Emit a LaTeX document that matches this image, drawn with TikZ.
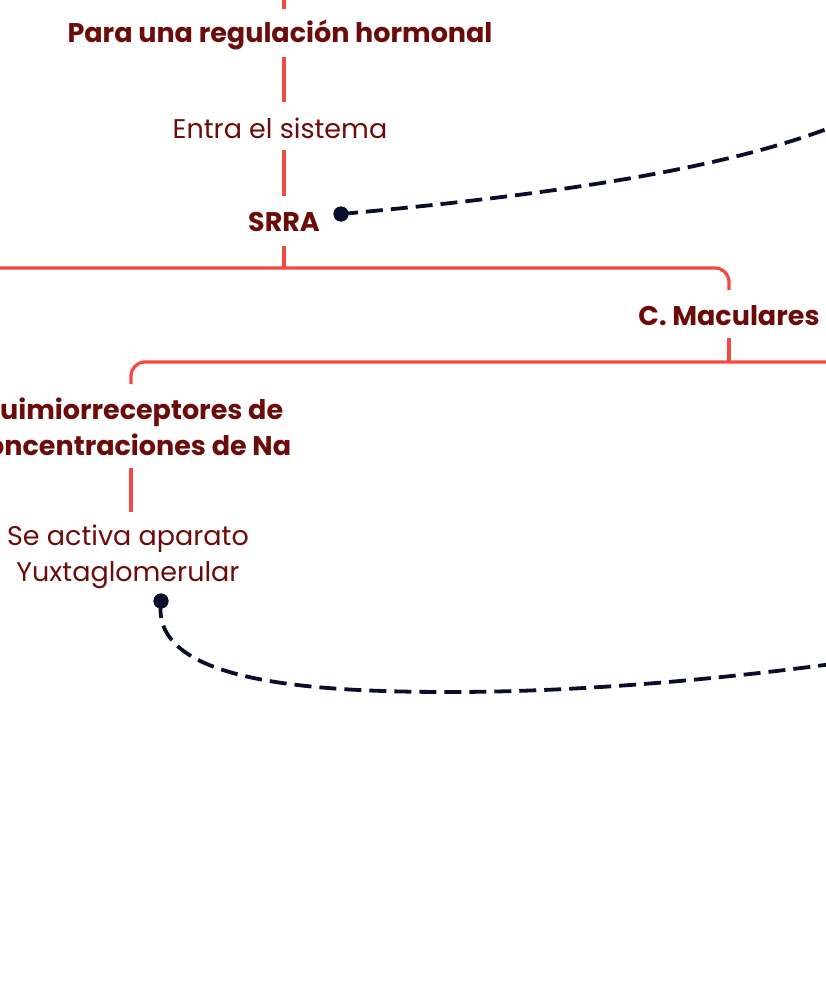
\documentclass[tikz,border=0pt]{standalone}
\usepackage{fontspec}
\setmainfont{Poppins}
\definecolor{linered}{RGB}{245,72,64}
\definecolor{txtred}{RGB}{108,12,10}
\definecolor{navy}{RGB}{10,14,42}
\begin{document}
\begin{tikzpicture}[x=1pt,y=-1pt,
  lbl/.style={text=txtred, font=\fontsize{27}{36}\selectfont, align=center, inner sep=0pt},
  blbl/.style={lbl, font=\fontsize{27}{36}\selectfont\bfseries},
  tree/.style={draw=linered, line width=3.2pt},
  link/.style={draw=navy, line width=3.8pt, dash pattern=on 17pt off 8pt},
  dotc/.style={circle, fill=navy, inner sep=0pt, minimum size=15pt}]
\useasboundingbox (0,0) rectangle (826,1001);
% text nodes
\node[blbl] (para) at (280,35) {Para una regulación hormonal};
\node[lbl] (entra) at (280,128) {Entra el sistema};
\node[blbl] (srra) at (284,222) {SRRA};
\node[blbl] (cmac) at (729,316) {C. Maculares};
\node[blbl] (quim) at (131,427) {Quimiorreceptores de\\concentraciones de Na};
\node[lbl] (seact) at (128,557) {Se activa aparato\\Yuxtaglomerular};
% helper coordinates
\coordinate (tx) at (284,0);
\coordinate (topin) at (284,-6);
\coordinate (topend) at (284,9);
\coordinate (barL) at (-6,268);
\coordinate (b2R) at (832,362);
% tree lines
\draw[tree] (topin) -- (topend);
\draw[tree, shorten <=22pt, shorten >=26pt] (tx |- para) -- (tx |- entra);
\draw[tree, shorten <=22pt, shorten >=26pt] (tx |- entra) -- (srra.center);
\draw[tree, shorten <=24pt] (srra.center) -- (tx |- barL);
\draw[tree, rounded corners=14pt, shorten >=26pt] (barL) -- (cmac |- barL) -- (cmac.center);
\draw[tree, shorten <=22pt] (cmac.center) -- (cmac |- b2R);
\draw[tree, rounded corners=14pt, shorten >=43pt] (b2R) -- (quim |- b2R) -- (quim.center);
\draw[tree, shorten <=41pt, shorten >=45pt] (quim.center) -- (quim |- seact);
% dashed links
\node[dotc] (dot1) at (341,214) {};
\node[dotc] (dot2) at (161,601) {};
\coordinate (e1) at (832,127);
\coordinate (mid2) at (450,692);
\coordinate (e2) at (832,664);
\draw[link] (dot1.center) .. controls (550,195) and (720,170) .. (e1);
\draw[link] (dot2.center) .. controls (150,680) and (300,692) .. (mid2) .. controls (600,692) and (750,675) .. (e2);
\node[dotc] at (dot1) {};
\node[dotc] at (dot2) {};
\end{tikzpicture}
\end{document}
